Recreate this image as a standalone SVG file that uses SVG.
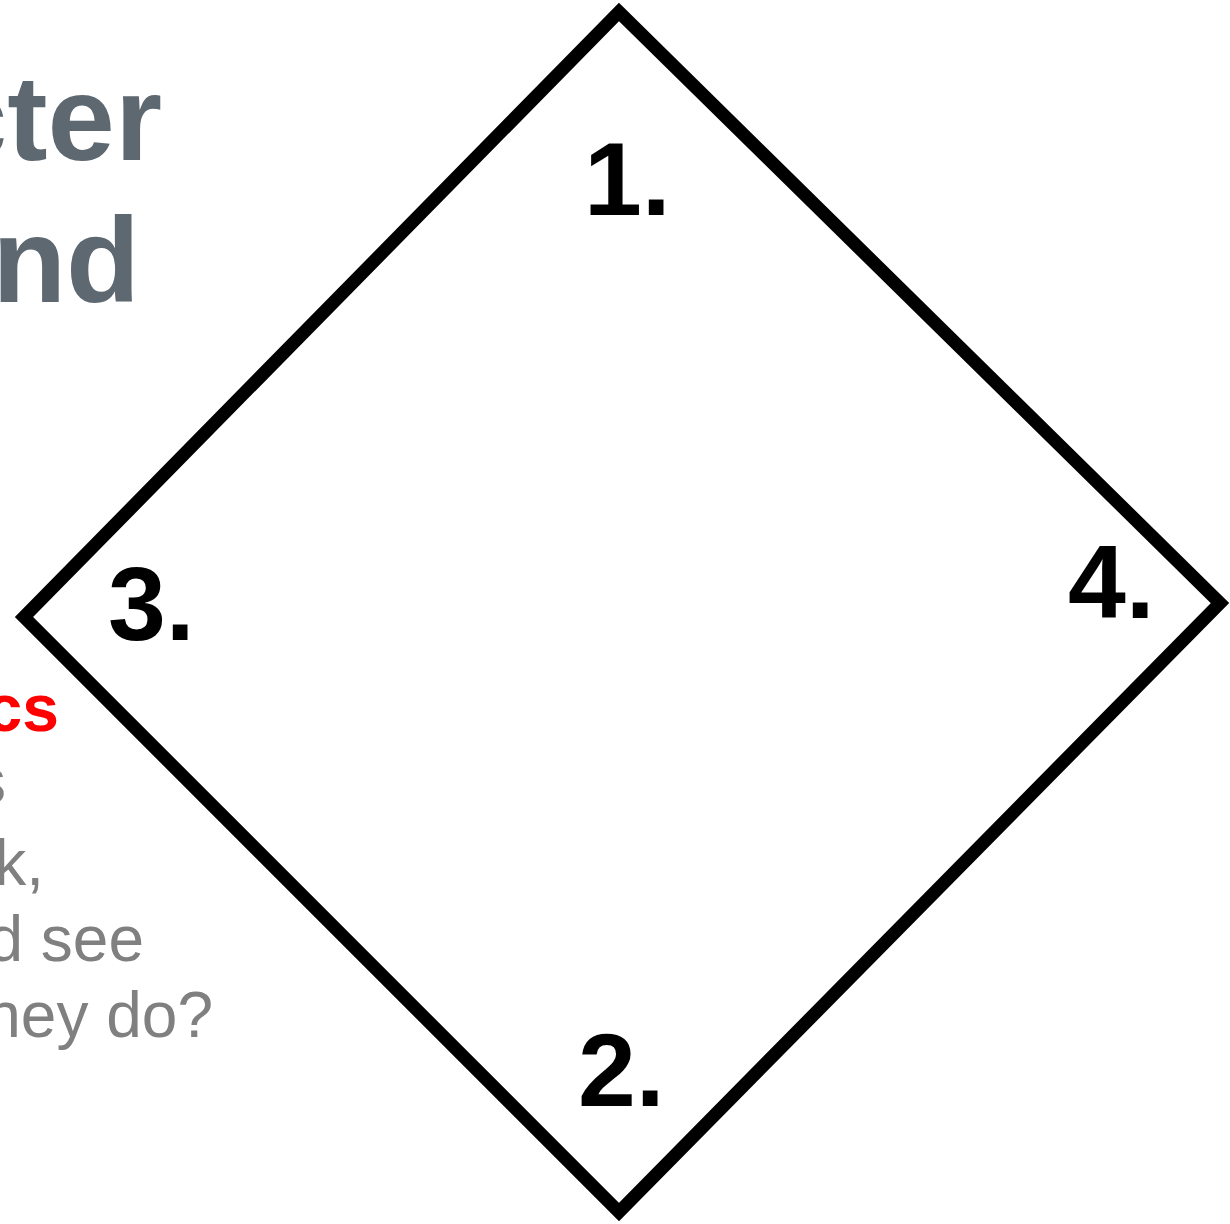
<svg xmlns="http://www.w3.org/2000/svg" width="1230" height="1224" viewBox="0 0 1230 1224">
<style>
.title{font-family:"Liberation Sans",Arial,sans-serif;font-weight:bold;font-size:121px;fill:#5E6870}
.red{font-family:"Liberation Sans",Arial,sans-serif;font-weight:bold;font-size:66px;fill:#FF0000}
.body{font-family:"Liberation Sans",Arial,sans-serif;font-size:64px;fill:#808080}
.num{font-family:"Liberation Sans",Arial,sans-serif;font-weight:bold;font-size:104px;fill:#000}
</style>
<rect width="1230" height="1224" fill="#fff"/>
<g id="left-text">
<text class="title" x="162" y="160" text-anchor="end">cter</text>
<text class="title" x="140" y="302" text-anchor="end">nd</text>
<text class="red" x="59" y="731" text-anchor="end">cs</text>
<text class="body" x="6" y="803" text-anchor="end">s</text>
<text class="body" x="44" y="885" text-anchor="end">k,</text>
<text class="body" x="144" y="961" text-anchor="end">d see</text>
<text class="body" x="213" y="1037" text-anchor="end">ney do?</text>
</g>
<g id="connectors"></g>
<g id="diamond">
<polygon points="619,12 1220,603 619,1212 24,617" fill="none" stroke="#000" stroke-width="13" stroke-linejoin="miter"/>
</g>
<g id="n1"><text class="num" x="584" y="215">1.</text></g>
<g id="n2"><text class="num" x="578" y="1106">2.</text></g>
<g id="n3"><text class="num" x="108" y="640">3.</text></g>
<g id="n4"><text class="num" x="1068" y="618">4.</text></g>
</svg>
